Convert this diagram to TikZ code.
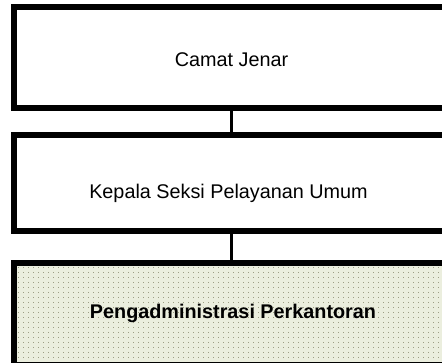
\documentclass[tikz,border=0pt]{standalone}
\usepackage{fontspec}
\setmainfont{Liberation Sans}
\definecolor{boxfill}{HTML}{EBEEDE}
\definecolor{dotcol}{HTML}{9C9E84}
\begin{document}
\begin{tikzpicture}[x=1pt,y=-1pt,
  orgbox/.style={draw=black,line width=6pt,line join=miter},
  link/.style={draw=black,line width=3pt},
  lbl/.style={font=\fontsize{19.8}{22}\selectfont,anchor=base,inner sep=0pt}]
\useasboundingbox (0,0) rectangle (442,363);
\clip (0,0) rectangle (442,363);
% box 3 fill and dots
\fill[boxfill] (14,263) rectangle (460,368);
\foreach \yy in {267,272,...,362}{
  \draw[dotcol,line width=1pt,dash pattern=on 1pt off 4pt] (18,\yy+0.5) -- (445,\yy+0.5);
}
% boxes
\draw[orgbox] (14,7) rectangle (460,108);
\draw[orgbox] (14,135) rectangle (460,231);
\draw[orgbox] (14,263) rectangle (460,365);
\coordinate (b1) at (231.5,108);
\coordinate (t2) at (231.5,135);
\coordinate (b2) at (231.5,231);
\coordinate (t3) at (231.5,263);
\draw[link] (b1) -- (t2);
\draw[link] (b2) -- (t3);
\node[lbl] (n1) at (231.5,67) {Camat Jenar};
\node[lbl] (n2) at (228.5,199) {Kepala Seksi Pelayanan Umum};
\node[lbl,font=\fontsize{19.8}{22}\selectfont\bfseries] (n3) at (233,319) {Pengadministrasi Perkantoran};
\end{tikzpicture}
\end{document}
